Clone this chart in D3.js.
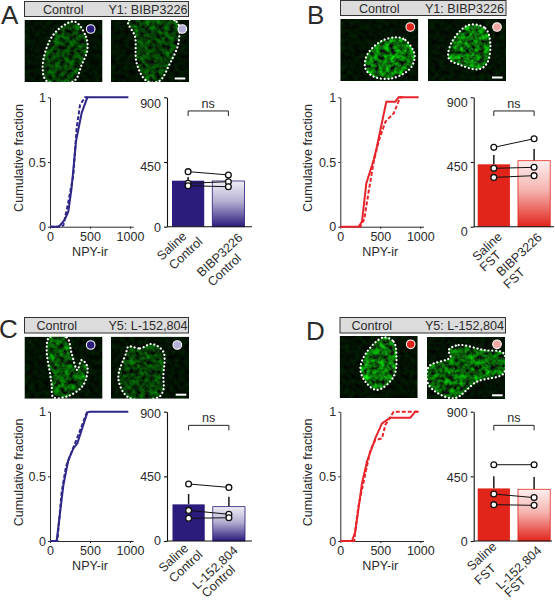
<!DOCTYPE html>
<html><head><meta charset="utf-8">
<script src="https://cdn.jsdelivr.net/npm/d3@7/dist/d3.min.js"></script>
<style>html,body{margin:0;padding:0;background:#fff}svg{display:block}text{font-family:"Liberation Sans",Arial,sans-serif;fill:#2b2b2b}</style>
</head><body><svg id="c" width="555" height="600"></svg>
<script>
// ---- data ----
const xTicks=[0,500,1000], yTicks=[0,0.5,1], barTicks=[0,450,900];
const cdfASolid=[[0,0],[100,0],[125,.01],[180,.05],[229,.116],[270,.3],[325,.66],[396,.88],[467,1],[980,1]];
const cdfADash=[[0,0],[130,0],[167,.01],[229,.19],[292,.4],[333,.76],[375,.94],[437,1],[470,1]];
const cdfBSolid=[[0,0],[229,0],[271,.04],[325,.335],[417,.515],[458,.62],[575,.966],[688,.966],[729,1],[979,1]];
const cdfBDash=[[230,0],[250,0],[300,.06],[354,.27],[417,.5],[479,.66],[563,.81],[667,.876],[750,1],[790,1]];
const cdfCSolid=[[0,0],[83,0],[167,.43],[229,.626],[292,.716],[342,.755],[467,.995],[500,1],[979,1]];
const cdfCDash=[[60,0],[92,0],[146,.38],[200,.575],[271,.69],[354,.82],[458,.99],[480,1]];
const cdfDSolid=[[0,0],[146,0],[187,.07],[271,.446],[333,.613],[437,.794],[521,.91],[625,.954],[875,.954],[937,1],[979,1]];
const cdfDDash=[[0,0],[175,0],[190,.1],[229,.278],[283,.433],[375,.70],[437,.78],[521,.794],[563,.897],[667,1],[979,1]];
const barsA=[320,318], barsB=[434,459], barsC=[255,239], barsD=[366,360];
const errA=[345,340], errB=[499,540], errC=[327,308], errD=[450,445];
const ptsA=[[383,360],[302,313],[285,278]];
const ptsB=[[552,612],[406,413],[343,355]];
const ptsC=[[397,373],[213,186],[158,162]];
const ptsD=[[531,531],[327,302],[253,248]];
// micrograph outlines, read in 3x crop pixels of each panel
const outA1=[[225,65],[258,110],[262,150],[245,195],[222,243],[140,243],[128,200],[150,120],[185,80]];
const outA2=[[385,63],[530,65],[535,130],[510,190],[478,243],[440,243],[410,190],[405,110]];
const outB1=[[355,112],[385,120],[413,165],[400,205],[345,235],[290,230],[265,205],[270,165],[310,125]];
const outB2=[[575,75],[625,85],[640,130],[630,190],[605,208],[550,195],[515,175],[525,125]];
const outC1=[[148,82],[200,82],[215,130],[232,180],[245,150],[262,170],[250,225],[205,258],[160,262],[155,225],[150,190],[140,120]];
const outC2=[[385,110],[420,115],[455,102],[490,125],[490,200],[490,240],[475,262],[385,262],[355,205],[378,130]];
const outD1=[[320,82],[350,95],[358,130],[350,200],[300,240],[265,215],[250,175],[270,125]];
const outD2=[[515,120],[545,105],[620,120],[680,130],[680,190],[600,215],[530,265],[455,225],[455,170],[520,142]];

const navy="#2a1b7c", red="#e1251b", navyLine="#2f2788", redLine="#e8242b";
const panels=[
 {id:"A",lx:1,ly:24,col:navy,line:navyLine,light:"#b4b0d6",title:"Y1: BIBP3226",ctrlX:63.3,titleEnd:187.5,box:[24.5,1.5,164,15],
  imgs:[[24.5,20],[111,20]],imgW:78,imgH:62,dots:[[90.7,29],[182.3,29]],sb:[180,78.5],outs:[outA1,outA2],ox:0,oy:0,glow:[.5,.5],
  cx:50,bx:167,bandL:172,top:97.3,bot:226.7,solid:cdfASolid,dash:cdfADash,bars:barsA,err:errA,pts:ptsA,tdy:[1,5,6],
  labs:[["Saline",172.3,246.7],["Control",186.3,254],["BIBP3226",220.3,255.7],["Control",225,270.7]],ytx:20,axisEnd:252},
 {id:"B",lx:307,ly:24,col:red,line:redLine,light:"#f2a9a6",title:"Y1: BIBP3226",ctrlX:379.3,titleEnd:504,box:[340.5,.5,165.5,15],
  imgs:[[340.3,19],[428,19]],imgW:78,imgH:62,dots:[[410.3,27],[497,27]],sb:[497.3,77.5],outs:[outB1,outB2],ox:277,oy:0,glow:[1,1],
  cx:340.3,bx:473.7,bandL:477.7,top:97.3,bot:226.7,solid:cdfBSolid,dash:cdfBDash,bars:barsB,err:errB,pts:ptsB,tdy:[5,5,5],
  labs:[["Saline",487.7,247.3],["FST",491,261.7],["BIBP3226",519.7,255.3],["FST",514.7,279]],ytx:309,axisEnd:554},
 {id:"C",lx:-1,ly:338,col:navy,line:navyLine,light:"#b4b0d6",title:"Y5: L-152,804",ctrlX:56.7,titleEnd:187.5,box:[24.5,317.5,164,15.5],
  imgs:[[24.5,336.7],[111,336.7]],imgW:78,imgH:62,dots:[[90.7,345],[177.3,345]],sb:[181,394.7],outs:[outC1,outC2],ox:0,oy:310,glow:[.7,.5],
  cx:50,bx:167,bandL:172.5,top:411.7,bot:541,solid:cdfCSolid,dash:cdfCDash,bars:barsC,err:errC,pts:ptsC,tdy:[0,0,1.5],
  labs:[["Saline",174,558.7],["Control",186.3,567],["L-152,804",215.7,568.3],["Control",219,582]],ytx:20,axisEnd:252},
 {id:"D",lx:306,ly:340,col:red,line:redLine,light:"#f2a9a6",title:"Y5: L-152,804",ctrlX:371.7,titleEnd:504,box:[340,317.5,165.5,15.5],
  imgs:[[339.7,336],[427,337]],imgW:78,imgH:62,dots:[[410.7,344.3],[497,344.3]],sb:[497.3,395.3],outs:[outD1,outD2],ox:277,oy:310,glow:[1,.85],
  cx:340.3,bx:473.7,bandL:477.7,top:411.7,bot:541,solid:cdfDSolid,dash:cdfDDash,bars:barsD,err:errD,pts:ptsD,tdy:[1,1,1],
  labs:[["Saline",482.3,557],["FST",485.7,575],["L-152,804",519.3,568.3],["FST",515.7,587.5]],ytx:308.7,axisEnd:552}
];

const svg=d3.select("#c"), defs=svg.append("defs");
const f=defs.append("filter").attr("id","tex").attr("x",0).attr("y",0).attr("width",1).attr("height",1).attr("color-interpolation-filters","sRGB");
f.append("feTurbulence").attr("type","fractalNoise").attr("baseFrequency",.2).attr("numOctaves",3).attr("seed",7);
f.append("feColorMatrix").attr("values","0 0.12 0 0 -0.02  1.5 0 0 0 -0.32  0 0.12 0 0 -0.02  0 0 0 0 1");
f.append("feGaussianBlur").attr("stdDeviation",.6);

function tickStyle(g){g.selectAll("path,line").attr("stroke","#2b2b2b").attr("stroke-width",1);g.selectAll("text").attr("font-size",12.5).attr("fill","#2b2b2b");}

panels.forEach((p,pi)=>{
 const g=svg.append("g");
 g.append("text").attr("x",p.lx).attr("y",p.ly).attr("font-size",26).attr("fill","#222").text(p.id);
 g.append("rect").attr("x",p.box[0]).attr("y",p.box[1]).attr("width",p.box[2]).attr("height",p.box[3]).attr("fill","#dcdcdc").attr("stroke","#333").attr("stroke-width",1);
 const ty=p.box[1]+p.box[3]/2+4.5;
 g.append("text").attr("x",p.ctrlX).attr("y",ty).attr("text-anchor","middle").attr("font-size",12.6).text("Control");
 g.append("text").attr("x",p.titleEnd).attr("y",ty).attr("text-anchor","end").attr("font-size",12.6).text(p.title);
 const sx=d3.scaleLinear().domain([0,3]).range([p.ox,p.ox+1]), sy=d3.scaleLinear().domain([0,3]).range([p.oy,p.oy+1]);
 const ln=d3.line().x(d=>sx(d[0])).y(d=>sy(d[1])).curve(d3.curveCatmullRomClosed.alpha(.5));
 p.imgs.forEach((im,i)=>{
  const cid="clip"+p.id+i, fid="frame"+p.id+i;
  defs.append("clipPath").attr("id",cid).append("path").attr("d",ln(p.outs[i]));
  defs.append("clipPath").attr("id",fid).append("rect").attr("x",im[0]).attr("y",im[1]).attr("width",p.imgW).attr("height",p.imgH);
  const m=g.append("g").attr("clip-path",`url(#${fid})`);
  m.append("rect").attr("x",im[0]).attr("y",im[1]).attr("width",p.imgW).attr("height",p.imgH).attr("fill","#020602");
  m.append("rect").attr("x",im[0]).attr("y",im[1]).attr("width",p.imgW).attr("height",p.imgH).attr("filter","url(#tex)").attr("opacity",.12);
  m.append("g").attr("clip-path",`url(#${cid})`).append("rect").attr("x",im[0]).attr("y",im[1]).attr("width",p.imgW).attr("height",p.imgH).attr("filter","url(#tex)").attr("opacity",p.glow[i]);
  m.append("path").attr("d",ln(p.outs[i])).attr("fill","none").attr("stroke","#fff").attr("stroke-width",2.2).attr("stroke-linecap","round").attr("stroke-dasharray","0.1 3.7");
  g.append("circle").attr("cx",p.dots[i][0]).attr("cy",p.dots[i][1]).attr("r",4.3).attr("fill",i?p.light:p.col).attr("stroke","#fff").attr("stroke-width",1.1);
 });
 g.append("rect").attr("x",p.sb[0]-5.3).attr("y",p.sb[1]-1).attr("width",10.6).attr("height",2).attr("fill","#fff");
 const x=d3.scaleLinear().domain([0,1000]).range([p.cx,p.cx+80]);
 const y=d3.scaleLinear().domain([0,1]).range([p.bot,p.top]);
 const xa=d3.scaleLinear().domain([0,1040]).range([p.cx,p.cx+83.2]);
 g.append("g").attr("transform",`translate(0,${p.bot})`).call(d3.axisBottom(xa).tickValues(xTicks).tickFormat(d3.format("d")).tickSize(2).tickSizeOuter(0).tickPadding(3)).call(tickStyle);
 g.append("g").attr("transform",`translate(${p.cx},0)`).call(d3.axisLeft(y).tickValues(yTicks).tickFormat(d=>d).tickSize(2).tickSizeOuter(0).tickPadding(2)).call(tickStyle);
 const l=d3.line().x(d=>x(d[0])).y(d=>y(d[1]));
 g.append("path").attr("d",l(p.solid)).attr("fill","none").attr("stroke",p.line).attr("stroke-width",2);
 g.append("path").attr("d",l(p.dash)).attr("fill","none").attr("stroke",p.line).attr("stroke-width",2).attr("stroke-dasharray","4 2");
 g.append("text").attr("x",x(500)).attr("y",p.bot+29).attr("text-anchor","middle").attr("font-size",12.6).text("NPY-ir");
 g.append("text").attr("transform",`translate(${p.ytx},${(p.top+p.bot)/2-4}) rotate(-90)`).attr("text-anchor","middle").attr("dominant-baseline","middle").attr("font-size",12.6).text("Cumulative fraction");
 const gid="grad"+p.id, gr=defs.append("linearGradient").attr("id",gid).attr("x1",0).attr("x2",0).attr("y1",0).attr("y2",1);
 gr.append("stop").attr("offset",0).attr("stop-color",d3.interpolateRgb("#fff",p.col)(.07));
 gr.append("stop").attr("offset",.45).attr("stop-color",d3.interpolateRgb("#fff",p.col)(.35));
 gr.append("stop").attr("offset",1).attr("stop-color",p.col);
 const by=d3.scaleLinear().domain([0,900]).range([p.bot,p.top]);
 const bxs=d3.scaleBand().domain([0,1]).range([p.bandL,p.bandL+72.5]).paddingInner(.2).paddingOuter(0);
 const ax=g.append("g").attr("transform",`translate(${p.bx},0)`).call(d3.axisLeft(by).tickValues(barTicks).tickSize(3).tickSizeOuter(0).tickPadding(3)).call(tickStyle);
 ax.selectAll("path,line").attr("stroke","#111").attr("stroke-width",1.1);
 ax.selectAll("text").attr("dy",(d,i)=>(0.32*12+p.tdy[i])+"px");
 p.bars.forEach((v,i)=>{
  const c=bxs(i)+bxs.bandwidth()/2;
  g.append("line").attr("x1",c).attr("x2",c).attr("y1",by(p.err[i])).attr("y2",by(v)).attr("stroke","#1a1a1a").attr("stroke-width",1.5);
  g.append("rect").attr("x",bxs(i)).attr("y",by(v)).attr("width",bxs.bandwidth()).attr("height",by(0)-by(v)).attr("fill",i?`url(#${gid})`:p.col).attr("stroke",i?p.col:"none").attr("stroke-width",.8);
 });
 g.append("line").attr("x1",p.bx).attr("x2",p.axisEnd).attr("y1",p.bot).attr("y2",p.bot).attr("stroke","#111").attr("stroke-width",1.1);
 const c0=bxs(0)+bxs.bandwidth()/2, c1=bxs(1)+bxs.bandwidth()/2;
 p.pts.forEach(pt=>{
  g.append("line").attr("x1",c0).attr("x2",c1).attr("y1",by(pt[0])).attr("y2",by(pt[1])).attr("stroke","#111").attr("stroke-width",1);
 });
 p.pts.forEach(pt=>{
  [0,1].forEach(i=>g.append("circle").attr("cx",i?c1:c0).attr("cy",by(pt[i])).attr("r",2.9).attr("fill","#fff").attr("stroke","#111").attr("stroke-width",1.3));
 });
 const b0=by(805), b1=by(770);
 g.append("path").attr("d",`M${c0},${b1}V${b0}H${c1}V${b1}`).attr("fill","none").attr("stroke","#222").attr("stroke-width",1);
 g.append("text").attr("x",(c0+c1)/2).attr("y",b0-3).attr("text-anchor","middle").attr("font-size",12.6).text("ns");
 p.labs.forEach(d=>g.append("text").attr("transform",`translate(${d[1]},${d[2]}) rotate(-43)`).attr("text-anchor","middle").attr("dominant-baseline","middle").attr("font-size",12.6).text(d[0]));
});
</script></body></html>
